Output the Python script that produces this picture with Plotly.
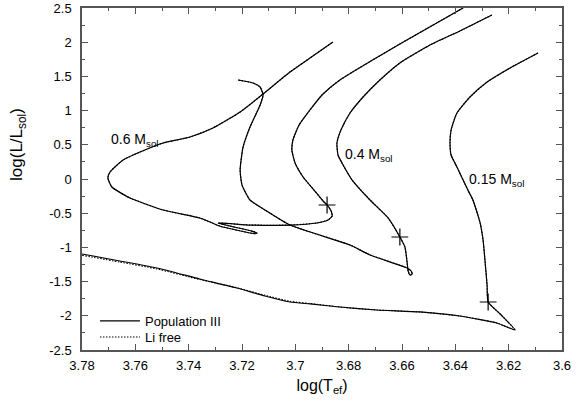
import plotly.graph_objects as go

# ---------------- data (log Teff, log L/Lsol) ----------------
t06 = [3.6371, 3.6608, 3.6833, 3.6900, 3.6945, 3.6986, 3.7009, 3.7013, 3.7001, 3.6971,
       3.6930, 3.6896, 3.6881, 3.6866, 3.6862, 3.6877, 3.6919, 3.7020, 3.7170, 3.7290,
       3.7160, 3.7144, 3.7150, 3.7282, 3.7320, 3.7358, 3.7496, 3.7620, 3.7688, 3.7703,
       3.7695, 3.7646, 3.7564, 3.7496, 3.7395, 3.7309, 3.7207, 3.7121, 3.7020, 3.6945,
       3.6859]
l06 = [2.50, 1.974, 1.447, 1.228, 1.009, 0.789, 0.570, 0.424, 0.234, 0.029,
       -0.161, -0.322, -0.380, -0.468, -0.541, -0.599, -0.643, -0.673, -0.673, -0.643,
       -0.765, -0.789, -0.800, -0.690, -0.629, -0.570, -0.453, -0.278, -0.117, 0.015,
       0.102, 0.278, 0.424, 0.526, 0.614, 0.746, 0.980, 1.243, 1.564, 1.769,
       2.003]

t04 = [3.6263, 3.6383, 3.6495, 3.6608, 3.6683, 3.6746, 3.6795, 3.6829, 3.6844, 3.6840,
       3.6825, 3.6787, 3.6720, 3.6652, 3.6608, 3.6589, 3.6581, 3.6577, 3.6570, 3.6562,
       3.6566, 3.6581, 3.6720, 3.6795, 3.7020, 3.7114, 3.7170, 3.7200, 3.7207, 3.7196,
       3.7170, 3.7132, 3.7121, 3.7132, 3.7159, 3.7215]
l04 = [2.398, 2.164, 1.959, 1.696, 1.447, 1.199, 0.965, 0.716, 0.526, 0.351,
       0.234, -0.015, -0.307, -0.570, -0.848, -0.994, -1.213, -1.345, -1.404, -1.389,
       -1.345, -1.301, -1.111, -0.965, -0.673, -0.453, -0.307, -0.088, 0.132, 0.468,
       0.760, 1.082, 1.228, 1.345, 1.404, 1.447]

t015 = [3.6090, 3.6195, 3.6281, 3.6345, 3.6394, 3.6416, 3.6420, 3.6416, 3.6394, 3.6353,
        3.6334, 3.6307, 3.6296, 3.6289, 3.6281, 3.6277, 3.6232, 3.6176, 3.6244, 3.6383,
        3.6533, 3.6694, 3.6833, 3.6945, 3.7020, 3.7114, 3.7219, 3.7358, 3.7519, 3.7658,
        3.7800]
l015 = [1.842, 1.623, 1.418, 1.199, 0.965, 0.716, 0.526, 0.351, 0.175, -0.161,
        -0.307, -0.643, -0.892, -1.184, -1.550, -1.798, -1.974, -2.208, -2.105, -2.003,
        -1.944, -1.915, -1.871, -1.827, -1.798, -1.711, -1.594, -1.462, -1.301, -1.199,
        -1.096]
# Li free version of the 0.15 track (differs slightly on the lower branch)
l015_li = [1.842, 1.623, 1.418, 1.199, 0.965, 0.716, 0.526, 0.351, 0.175, -0.161,
           -0.307, -0.643, -0.892, -1.184, -1.550, -1.798, -1.974, -2.208, -2.105, -2.003,
           -1.944, -1.915, -1.871, -1.820, -1.788, -1.700, -1.590, -1.470, -1.315, -1.215,
           -1.115]

cross_t = [3.6881, 3.6608, 3.6277]
cross_l = [-0.380, -0.848, -1.798]

labels = ["0.6 M<sub>sol</sub>", "0.4 M<sub>sol</sub>", "0.15 M<sub>sol</sub>"]
label_t = [3.7697, 3.6822, 3.6355]
label_l = [0.57, 0.35, -0.01]

x_ticks = [3.78, 3.76, 3.74, 3.72, 3.70, 3.68, 3.66, 3.64, 3.62, 3.60]
x_ticktext = ["3.78", "3.76", "3.74", "3.72", "3.7", "3.68", "3.66", "3.64", "3.62", "3.6"]
y_ticks = [2.5, 2, 1.5, 1, 0.5, 0, -0.5, -1, -1.5, -2, -2.5]
y_ticktext = ["2.5", "2", "1.5", "1", "0.5", "0", "-0.5", "-1", "-1.5", "-2", "-2.5"]

FONT = "Liberation Sans, Arial, sans-serif"
LW = 1.2
DOT = "1.5px,1.5px"

fig = go.Figure()
tracks = [(t06, l06, l06), (t04, l04, l04), (t015, l015, l015_li)]
for i, (t, l, lli) in enumerate(tracks):
    fig.add_trace(go.Scatter(x=t, y=lli, mode="lines",
                             line=dict(color="black", width=1.1, dash=DOT, shape="spline", smoothing=0.5),
                             name="Li free", legend="legend2", showlegend=(i == 0)))
for i, (t, l, lli) in enumerate(tracks):
    fig.add_trace(go.Scatter(x=t, y=l, mode="lines",
                             line=dict(color="black", width=LW, shape="spline", smoothing=0.5),
                             name="Population III", legend="legend", showlegend=(i == 0)))
fig.add_trace(go.Scatter(x=cross_t, y=cross_l, mode="markers",
                         marker=dict(symbol="cross-thin", size=12, line=dict(color="black", width=1.2)),
                         showlegend=False))

for txt, tx, ty in zip(labels, label_t, label_l):
    fig.add_annotation(x=tx, y=ty, text=txt, showarrow=False, xanchor="left", yanchor="middle",
                       font=dict(family=FONT, size=14, color="black"))

# y-axis title (placed as rotated text, as in the reference)
fig.add_annotation(xref="paper", yref="paper", x=-0.133, y=0.60, text="log(L/L<sub>sol</sub>)",
                   textangle=-90, showarrow=False, xanchor="center", yanchor="middle",
                   font=dict(family=FONT, size=17, color="black"))

axis_common = dict(showline=True, linecolor="#555", linewidth=1.5, mirror="ticks",
                   ticks="inside", ticklen=6, tickcolor="#555", showgrid=False, zeroline=False,
                   tickfont=dict(family=FONT, size=13, color="black"))
fig.update_xaxes(range=[3.78, 3.60], tickvals=x_ticks, ticktext=x_ticktext, ticklabelstandoff=3,
                 minor=dict(dtick=0.01, tick0=3.6, ticklen=3, ticks="inside", tickcolor="#555"),
                 title=dict(text="log(T<sub>ef</sub>)", font=dict(family=FONT, size=16, color="black"), standoff=7),
                 **axis_common)
fig.update_yaxes(range=[-2.5, 2.5], tickvals=y_ticks, ticktext=y_ticktext, ticklabelstandoff=6,
                 minor=dict(dtick=0.25, tick0=0, ticklen=3, ticks="inside", tickcolor="#555"),
                 **axis_common)

leg = dict(xanchor="left", yanchor="middle", bgcolor="rgba(0,0,0,0)", borderwidth=0,
           font=dict(family=FONT, size=13, color="black"), itemwidth=40)
fig.update_layout(width=587, height=402, margin=dict(l=82, r=25, t=8, b=52, autoexpand=False),
                  paper_bgcolor="white", plot_bgcolor="white",
                  font=dict(family=FONT, size=12, color="black"),
                  legend=dict(x=0.027, y=0.085, **leg),
                  legend2=dict(x=0.027, y=0.038, **leg))

fig.write_html("out.html")
